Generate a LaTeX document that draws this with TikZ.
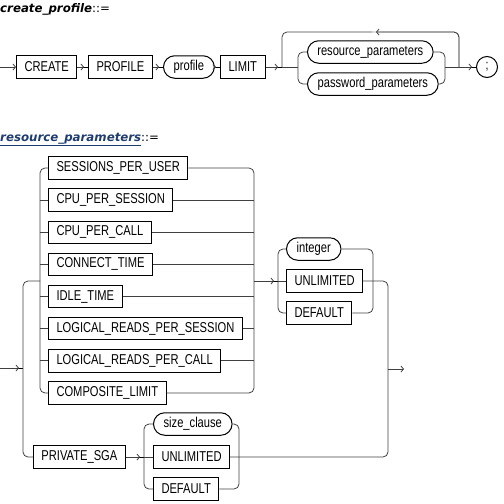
\documentclass[tikz,border=0pt]{standalone}
\usepackage{fontspec}
\setmainfont{Liberation Sans}[FakeStretch=0.78]
\newfontfamily\titlefont{DejaVu Sans}
\usepackage{xcolor}
\usepackage{tikz}
\usetikzlibrary{arrows.meta}
\usetikzlibrary{shapes.misc}
\usetikzlibrary{positioning}
\definecolor{linkblue}{HTML}{1F3C6E}
\tikzset{>={Straight Barb[length=2.5pt,width=6pt]}}
\tikzstyle{kw} = [rectangle, draw=black, line width=1pt, minimum height=22.5pt, inner xsep=8pt, inner ysep=0pt, anchor=west, font=\fontsize{14.3}{15}\selectfont]
\tikzstyle{var} = [kw, rounded rectangle, rounded rectangle arc length=180]
\tikzstyle{rail} = [draw=black!75, line width=0.8pt, rounded corners=5pt]
\tikzstyle{arr} = [rail, ->, shorten >=4pt, preaction = {draw, -, shorten >=0pt}]

\begin{document}
\begin{tikzpicture}[x=1pt, y=-1pt]
\useasboundingbox (0,0) rectangle (504,504);
% titles
\node [anchor=base west, inner sep=0pt, font=\titlefont\fontsize{11.8}{13}\selectfont] (T1) at (0,12) {\textbf{\textit{create\_profile}}::=};
\node [anchor=base west, inner sep=0pt, font=\titlefont\fontsize{11.8}{13}\selectfont] (T2) at (0,141) {\textcolor{linkblue}{\underline{\textbf{\textit{resource\_parameters}}}}::=};

% create_profile
\coordinate (st1) at (0,67);
\node [kw] (create) at (16,67) {CREATE};
\node [kw] (prof) at (88,67) {PROFILE};
\node [var] (profname) at (163,67) {profile};
\node [kw] (limit) at (220,67) {LIMIT};
\node [var] (resp) at (307,52) {resource\_parameters};
\node [var] (passp) at (307,84) {password\_parameters};
\node [circle, draw=black, line width=1pt, minimum size=21pt, inner sep=0pt, font=\fontsize{13.5}{14}\selectfont] (semi) at (487,67) {;};
\coordinate (c1) at (282,67);
\coordinate (c2) at (298,67);
\coordinate (c3) at (445,67);
\coordinate (c4) at (459,67);
\coordinate (lt) at (372,32);
\draw [rail, ->] (st1) -- (create.west);
\draw [arr] (create.east) -- (prof.west);
\draw [arr] (prof.east) -- (profname.west);
\draw [arr] (profname.east) -- (limit.west);
\draw [arr] (limit.east) -- (c1);
\draw [rail] (c1) -- (c2);
\draw [rail] (c2) |- (resp.west);
\draw [rail] (c2) |- (passp.west);
\draw [rail] (resp.east) -| (c3);
\draw [rail] (passp.east) -| (c3);
\draw [arr] (c3) -- (semi.west);
\draw [arr] (c4) |- (lt);
\draw [rail] (lt) -| (c1);

% resource_parameters
\coordinate (st2) at (0,368);
\coordinate (o1) at (23,368);
\coordinate (j1) at (40,281);
\coordinate (j2) at (254,281);
\foreach \lbl [count=\i] in {SESSIONS\_PER\_USER, CPU\_PER\_SESSION, CPU\_PER\_CALL, CONNECT\_TIME, IDLE\_TIME, LOGICAL\_READS\_PER\_SESSION, LOGICAL\_READS\_PER\_CALL, COMPOSITE\_LIMIT}
  \node [kw] (p\i) at (48,{168+32.14*(\i-1)}) {\lbl};
\node [kw] (psga) at (33,457) {PRIVATE\_SGA};
\draw [arr] (st2) -- (o1);
\draw [rail] (o1) |- (j1);
\draw [rail] (o1) |- (psga.west);
\draw [rail] (j1) |- (p1.west);
\draw [rail] (j1) |- (p8.west);
\draw [rail] (p1.east) -| (j2);
\draw [rail] (p8.east) -| (j2);
\foreach \i in {2,...,7} {
  \draw [rail] (p\i.west -| j1) -- (p\i.west);
  \draw [rail] (p\i.east) -- (p\i.east -| j2);
}

% integer / UNLIMITED / DEFAULT
\coordinate (k1) at (278,281);
\coordinate (k2) at (373,281);
\node [var] (intg) at (286,249) {integer};
\node [kw] (unl1) at (286,281) {UNLIMITED};
\node [kw] (def1) at (286,313) {DEFAULT};
\draw [arr] (j2) -- (k1);
\draw [rail] (k1) -- (unl1.west);
\draw [rail] (k1) |- (intg.west);
\draw [rail] (k1) |- (def1.west);
\draw [rail] (intg.east) -| (k2);
\draw [rail] (def1.east) -| (k2);

% size_clause / UNLIMITED / DEFAULT
\coordinate (q1) at (144,457);
\coordinate (q2) at (239,457);
\node [var] (szc) at (153,424) {size\_clause};
\node [kw] (usga) at (153,457) {UNLIMITED};
\node [kw] (dsga) at (153,489) {DEFAULT};
\draw [arr] (psga.east) -- (q1);
\draw [rail] (q1) -- (usga.west);
\draw [rail] (q1) |- (szc.west);
\draw [rail] (q1) |- (dsga.west);
\draw [rail] (szc.east) -| (q2);
\draw [rail] (dsga.east) -| (q2);

% exit
\coordinate (o2) at (388,369);
\coordinate (en2) at (404,369);
\draw [rail] (unl1.east) -| (o2);
\draw [rail] (usga.east) -| (o2);
\draw [rail, ->] (o2) -- (en2);
\end{tikzpicture}
\end{document}
